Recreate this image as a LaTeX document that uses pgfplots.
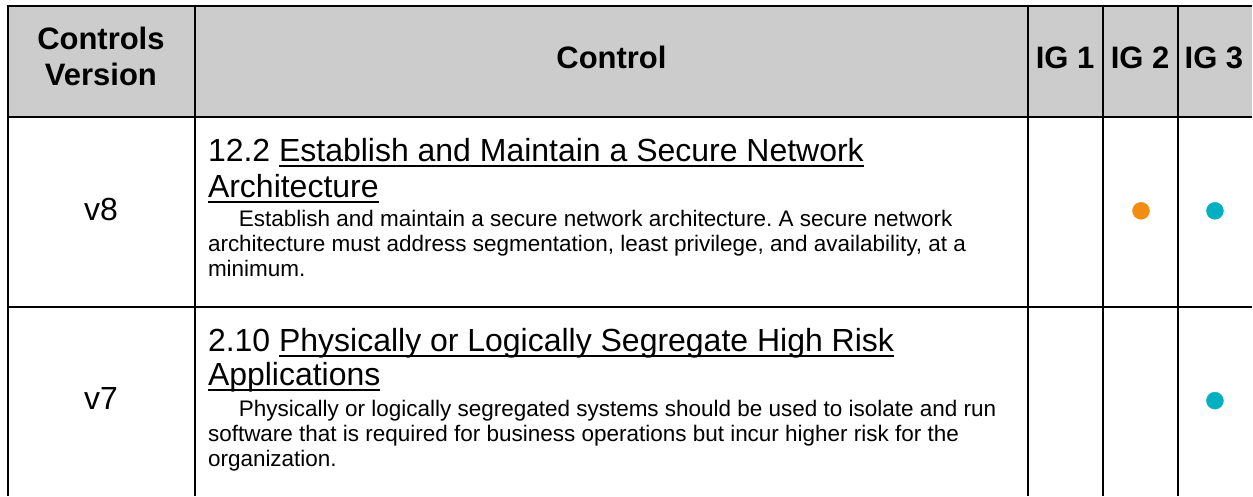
\documentclass[border=0pt]{standalone}
\usepackage{pgfplots}
\pgfplotsset{compat=1.18}
\usepackage{fontspec}
\setmainfont{Liberation Sans}
\frenchspacing
\definecolor{hdr}{RGB}{204,204,204}
\definecolor{igorange}{RGB}{242,140,18}
\definecolor{igteal}{RGB}{0,176,192}
\newcommand{\hdrfont}{\fontsize{31bp}{37bp}\selectfont\bfseries}
\newcommand{\ttlfont}{\fontsize{32bp}{37bp}\selectfont}
\newcommand{\bodyfont}{\fontsize{22.5bp}{25bp}\selectfont}
\newsavebox{\ulbox}
\newcommand{\uln}[1]{\sbox{\ulbox}{#1}\rlap{\rule[-5bp]{\wd\ulbox}{2bp}}\usebox{\ulbox}}
\begin{document}
\begin{tikzpicture}
\begin{axis}[
  scale only axis, width=1253bp, height=496bp,
  xmin=0, xmax=1253, ymin=0, ymax=496, y dir=reverse,
  hide axis, clip=false,
]
\path (axis cs:0,0) rectangle (axis cs:1253,496);
\fill[hdr] (axis cs:8,6) rectangle (axis cs:1253,117);
% grid
\draw[line width=2.2bp, black] (axis cs:7,6) -- (axis cs:1253,6);
\draw[line width=2.2bp, black] (axis cs:7,117) -- (axis cs:1253,117);
\draw[line width=2.2bp, black] (axis cs:7,307) -- (axis cs:1253,307);
\foreach \xx in {8,195,1029,1104,1179}{
  \edef\tmp{\noexpand\draw[line width=2.2bp, black] (axis cs:\xx,5) -- (axis cs:\xx,496);}\tmp
}
% dots (IG membership)
\addplot[only marks, mark=*, mark size=8.5bp, draw=igorange, fill=igorange] coordinates {(1142,211)};
\addplot[only marks, mark=*, mark size=8.5bp, draw=igteal, fill=igteal] coordinates {(1216,211) (1216,401)};
% header
\node[anchor=base, inner sep=0] at (axis cs:101,50) {\hdrfont Controls};
\node[anchor=base, inner sep=0] at (axis cs:101,86) {\hdrfont Version};
\node[anchor=base, inner sep=0] at (axis cs:612,69) {\hdrfont Control};
\node[anchor=base, inner sep=0] at (axis cs:1066,69) {\hdrfont IG 1};
\node[anchor=base, inner sep=0] at (axis cs:1141,69) {\hdrfont IG 2};
\node[anchor=base, inner sep=0] at (axis cs:1215,69) {\hdrfont IG 3};
% version column
\node[anchor=base, inner sep=0] at (axis cs:101,221) {\ttlfont v8};
\node[anchor=base, inner sep=0] at (axis cs:101,410) {\ttlfont v7};
% row 1
\node[anchor=base west, inner sep=0] at (axis cs:208,162) {\ttlfont 12.2 \uln{Establish and Maintain a Secure Network}};
\node[anchor=base west, inner sep=0] at (axis cs:208,198) {\ttlfont \uln{Architecture}};
\node[anchor=base west, inner sep=0] at (axis cs:239,227) {\bodyfont Establish and maintain a secure network architecture. A secure network};
\node[anchor=base west, inner sep=0] at (axis cs:208,252) {\bodyfont architecture must address segmentation, least privilege, and availability, at a};
\node[anchor=base west, inner sep=0] at (axis cs:208,277) {\bodyfont minimum.};
% row 2
\node[anchor=base west, inner sep=0] at (axis cs:208,352) {\ttlfont 2.10 \uln{Physically or Logically Segregate High Risk}};
\node[anchor=base west, inner sep=0] at (axis cs:208,386) {\ttlfont \uln{Applications}};
\node[anchor=base west, inner sep=0] at (axis cs:239,417) {\bodyfont Physically or logically segregated systems should be used to isolate and run};
\node[anchor=base west, inner sep=0] at (axis cs:208,442) {\bodyfont software that is required for business operations but incur higher risk for the};
\node[anchor=base west, inner sep=0] at (axis cs:208,467) {\bodyfont organization.};
\end{axis}
\end{tikzpicture}
\end{document}
